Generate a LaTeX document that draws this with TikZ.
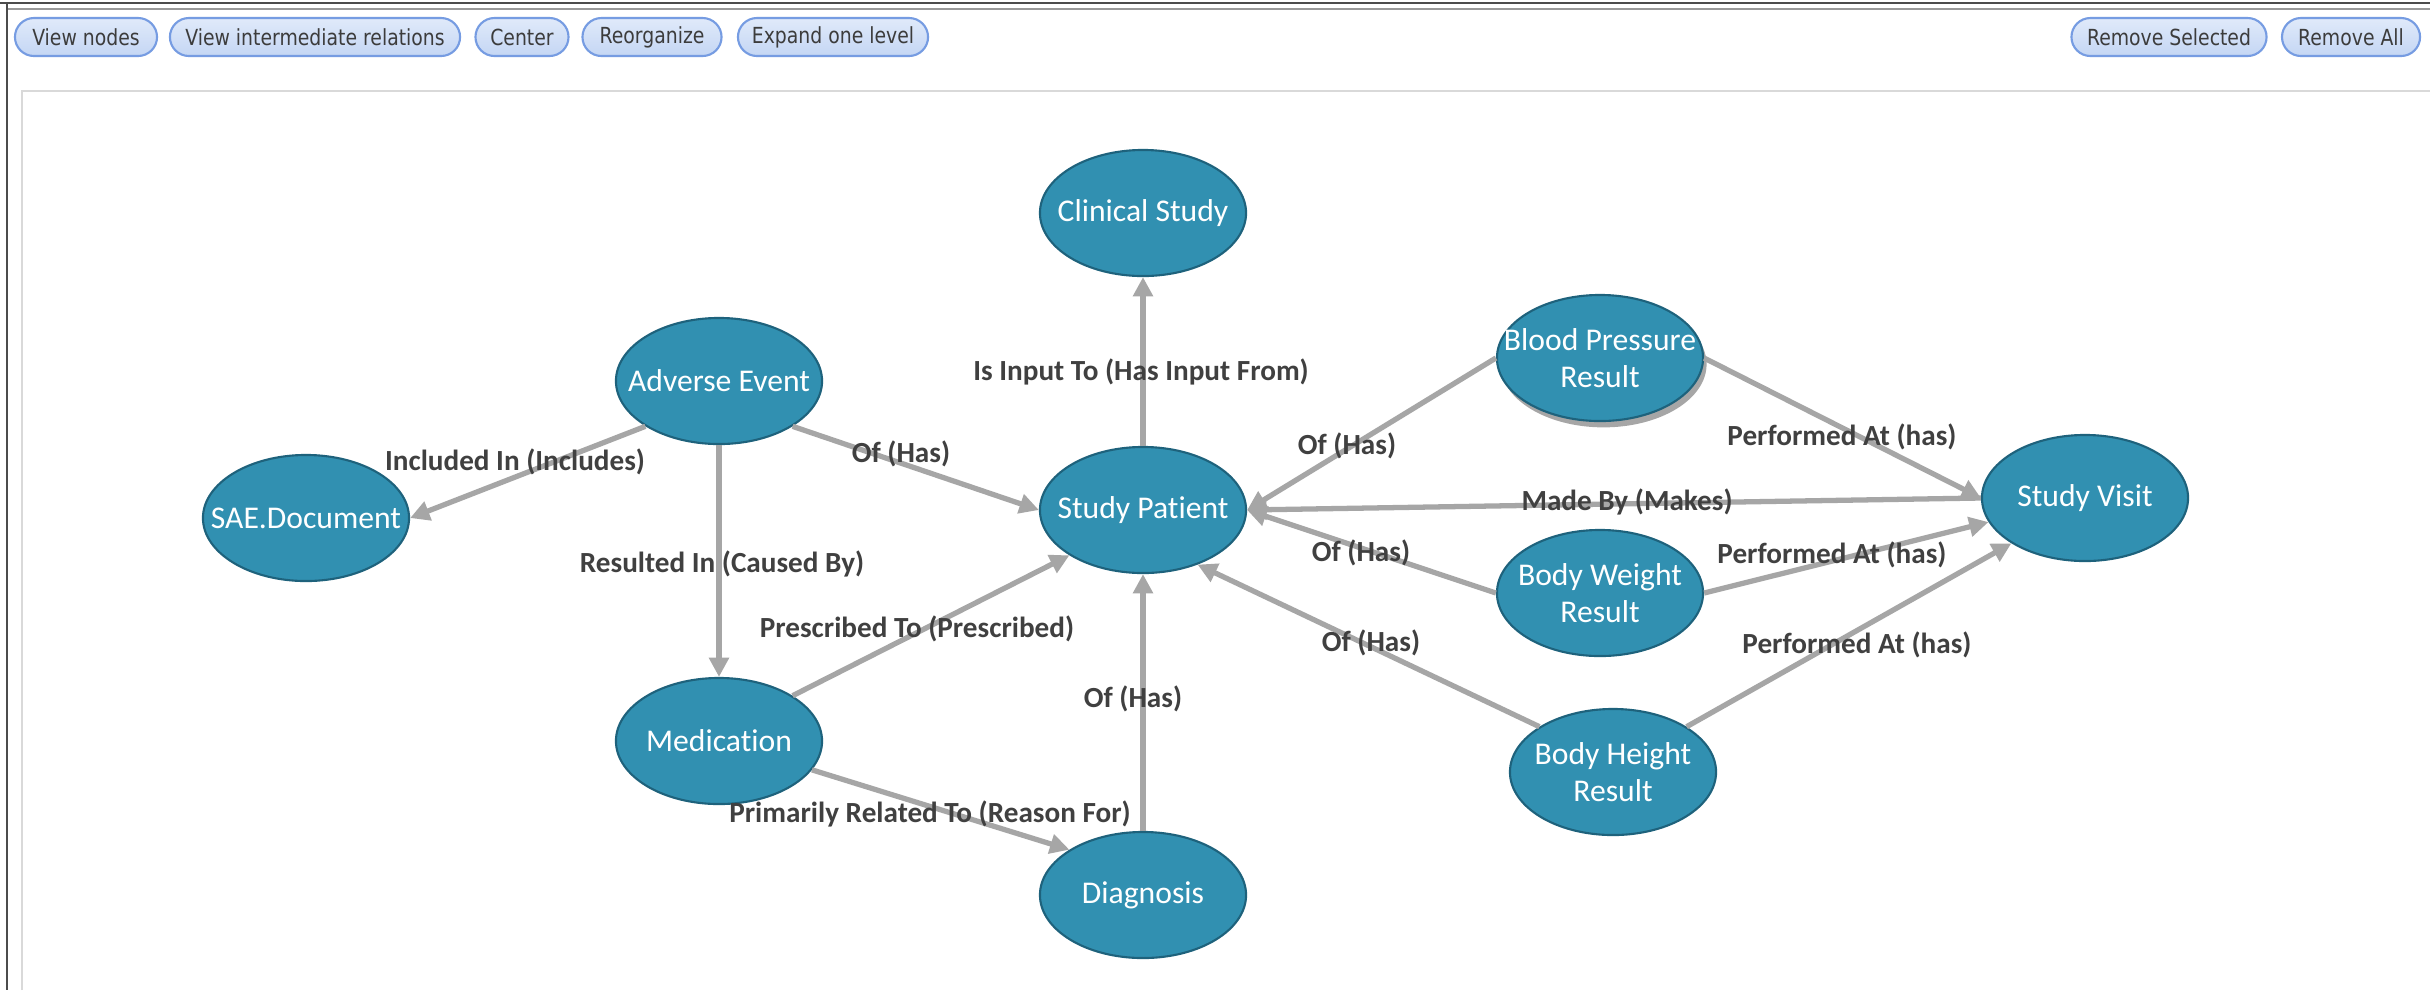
\documentclass[tikz,border=0pt]{standalone}
\usepackage{fontspec}
\usepackage{graphicx}
\setmainfont{Carlito}[Ligatures=NoCommon]
\newfontfamily\btnfont{DejaVu Sans}
\usetikzlibrary{arrows.meta,shadows,shapes.geometric}
\definecolor{entfill}{RGB}{49,144,177}
\definecolor{entdraw}{RGB}{30,98,124}
\definecolor{edgegray}{RGB}{166,166,166}
\definecolor{lbltext}{RGB}{64,64,64}
\definecolor{btntop}{RGB}{224,234,250}
\definecolor{btnbot}{RGB}{196,214,244}
\definecolor{btndraw}{RGB}{118,156,226}
\definecolor{btntext}{RGB}{60,60,60}
\definecolor{framegray}{RGB}{217,217,217}
\begin{document}
\begin{tikzpicture}[x=0.01cm,y=-0.01cm,
  ent/.style={ellipse, fill=entfill, draw=entdraw, line width=0.6pt,
    minimum width=2.06cm, minimum height=1.26cm, inner sep=0pt},
  enttxt/.style={text=white, font=\fontsize{9}{10.5}\selectfont, align=center, inner sep=0pt},
  rel/.style={draw=edgegray, line width=1.5pt, -{Triangle[length=5.5pt,width=5.5pt]}},
  rellbl/.style={text=lbltext, font=\bfseries\fontsize{8.3}{10}\selectfont, inner sep=0pt},
  btn/.style={draw=btndraw, line width=0.6pt, top color=btntop, bottom color=btnbot,
    rounded corners=0.19cm, minimum height=0.38cm, inner sep=0pt, text=btntext,
    font=\btnfont\fontsize{6.3}{7}\selectfont}
]
\useasboundingbox (0,0) rectangle (2430,990);
\fill[white] (0,0) rectangle (2430,990);
% window frame
\draw[draw=black!70, line width=0.6pt] (0,3) -- (2430,3);
\draw[draw=black!40, line width=0.6pt] (7,9) -- (2430,9);
\draw[draw=black!70, line width=0.6pt] (7,3) -- (7,990);
\draw[draw=framegray, line width=0.7pt] (22,990) -- (22,91) -- (2430,91);
% buttons
\node[btn, minimum width=1.42cm] (b1) at (86,37) {\scalebox{0.85}[1]{View nodes}};
\node[btn, minimum width=2.90cm] (b2) at (315,37) {\scalebox{0.85}[1]{View intermediate relations}};
\node[btn, minimum width=0.93cm] (b3) at (522,37) {\scalebox{0.85}[1]{Center}};
\node[btn, minimum width=1.39cm] (b4) at (652,37) {\scalebox{0.85}[1]{Reorganize}};
\node[btn, minimum width=1.90cm] (b5) at (833,37) {\scalebox{0.85}[1]{Expand one level}};
\node[btn, minimum width=1.95cm] (b6) at (2169,37) {\scalebox{0.85}[1]{Remove Selected}};
\node[btn, minimum width=1.38cm] (b7) at (2351,37) {\scalebox{0.85}[1]{Remove All}};
% entities
\node[ent, label={[enttxt]center:Clinical Study}] (cs) at (1143,213) {};
\node[ent, label={[enttxt]center:Adverse Event}] (ae) at (719,381) {};
\node[ent, label={[enttxt]center:SAE.Document}] (sae) at (306,518) {};
\node[ent, label={[enttxt]center:Study Patient}] (sp) at (1143,510) {};
\node[ent, drop shadow={shadow xshift=1pt, shadow yshift=-1.8pt, opacity=0.35, fill=black},
  label={[enttxt]center:{Blood Pressure\\Result}}] (bp) at (1600,358) {};
\node[ent, label={[enttxt]center:Study Visit}] (sv) at (2085,498) {};
\node[ent, label={[enttxt]center:{Body Weight\\Result}}] (bw) at (1600,593) {};
\node[ent, label={[enttxt]center:{Body Height\\Result}}] (bh) at (1613,772) {};
\node[ent, label={[enttxt]center:Medication}] (med) at (719,741) {};
\node[ent, label={[enttxt]center:Diagnosis}] (dg) at (1143,895) {};
% relations
\draw[rel] (sp) -- (cs);
\draw[rel] (ae.south west) -- (sae.east);
\draw[rel] (ae.south east) -- (sp.west);
\draw[rel] (ae) -- (med);
\draw[rel] (med.north east) -- (sp.south west);
\draw[rel] (med) -- (dg.north west);
\draw[rel] (dg) -- (sp);
\draw[rel] (bp.west) -- (sp.east);
\draw[rel] (bp.east) -- (sv.west);
\draw[rel] (sv.west) -- (sp.east);
\draw[rel] (bw.west) -- (sp.east);
\draw[rel] (bw.east) -- (sv);
\draw[rel] (bh.north west) -- (sp.-45);
\draw[rel] (bh.north east) -- (sv.south west);
% relation labels
\node[rellbl] (l1) at (1141,372) {Is Input To (Has Input From)};
\node[rellbl] (l2) at (515,462) {Included In (Includes)};
\node[rellbl] (l3) at (901,454) {Of (Has)};
\node[rellbl] (l4) at (722,564) {Resulted In (Caused By)};
\node[rellbl] (l5) at (917,629) {Prescribed To (Prescribed)};
\node[rellbl] (l6) at (930,814) {Primarily Related To (Reason For)};
\node[rellbl] (l7) at (1133,699) {Of (Has)};
\node[rellbl] (l8) at (1347,446) {Of (Has)};
\node[rellbl] (l9) at (1842,437) {Performed At (has)};
\node[rellbl] (l10) at (1627,502) {Made By (Makes)};
\node[rellbl] (l11) at (1361,553) {Of (Has)};
\node[rellbl] (l12) at (1832,555) {Performed At (has)};
\node[rellbl] (l13) at (1371,643) {Of (Has)};
\node[rellbl] (l14) at (1857,645) {Performed At (has)};
\end{tikzpicture}
\end{document}
